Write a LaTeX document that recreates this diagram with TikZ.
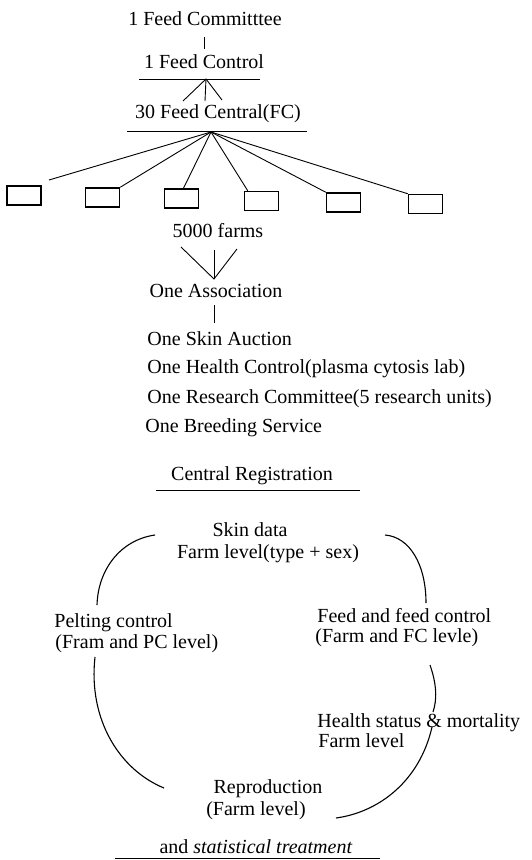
\documentclass[tikz,border=0pt]{standalone}
\usepackage{fontspec}
\setmainfont{Liberation Serif}
\usetikzlibrary{positioning}
\tikzset{txt/.style={font=\fontsize{20}{23}\selectfont, inner sep=0pt, anchor=base},
  lefttxt/.style={txt, anchor=base west},
  farmbox/.style={draw, line width=1.5pt, minimum width=34pt, minimum height=19pt, inner sep=0pt},
  rule/.style={line width=1pt},
  cycle arc/.style={line width=1.1pt}}

\begin{document}
\begin{tikzpicture}[x=1pt,y=-1pt,line width=0.9pt]
\useasboundingbox (0,0) rectangle (531,860);

% organisation
\node[txt] (committee) at (205,25) {1 Feed Committtee};
\node[txt] (control) at (204,68) {1 Feed Control};
\node[txt] (central) at (218,118) {30 Feed Central(FC)};
\draw[rule] (139,79) -- (260,79);
\draw[rule] (127,131) -- (307,131);

\coordinate (c1) at (204,37);
\coordinate (c2) at (204,49);
\draw (c1) -- (c2);

\coordinate (uptip) at (206,79);
\coordinate (upl) at (183,101);
\coordinate (upm) at (205,101);
\coordinate (upr) at (222,100);
\draw (upl) -- (uptip) -- (upr);
\draw (upm) -- (uptip);

% feed centrals
\coordinate (fan) at (211,132);
\node[farmbox] (box1) at (24,195.5) {};
\node[farmbox] (box2) at (102.5,197.5) {};
\node[farmbox] (box3) at (181.5,198.5) {};
\node[farmbox] (box4) at (261.5,201) {};
\node[farmbox] (box5) at (343.5,202.5) {};
\node[farmbox] (box6) at (425.5,204) {};
\coordinate (b1) at (49,180);
\draw (fan) -- (b1);
\draw (fan) -- (box2.north east);
\draw (fan) -- ([xshift=2pt]box3.north);
\draw (fan) -- ([xshift=4pt]box4.north west);
\draw (fan) -- (box5.north west);
\draw (fan) -- (box6.north west);

\node[txt] (farms) at (218,237) {5000 farms};
\coordinate (dntip) at (214,279);
\coordinate (dnl) at (181,247);
\coordinate (dnm) at (214,250);
\coordinate (dnr) at (237,249);
\draw (dnl) -- (dntip) -- (dnr);
\draw (dnm) -- (dntip);

\node[txt] (assoc) at (216,297) {One Association};
\coordinate (a1) at (214,305);
\coordinate (a2) at (214,323);
\draw (a1) -- (a2);

\node[lefttxt] (auction) at (147,345) {One Skin Auction};
\node[lefttxt] (health) at (147,373) {One Health Control(plasma cytosis lab)};
\node[lefttxt] (research) at (147,403) {One Research Committee(5 research units)};
\node[lefttxt] (breeding) at (145,432) {One Breeding Service};

% registration cycle
\node[txt] (registration) at (252,480) {Central Registration};
\draw[rule] (156,490) -- (360,490);

\node[txt] (skindata) at (250,536) {Skin data};
\node[txt] (farmlevel) at (268,558) {Farm level(type + sex)};
\node[lefttxt] (pelting) at (54,627) {Pelting control};
\node[lefttxt] (pelting2) at (55,648) {(Fram and PC level)};
\node[lefttxt] (feed) at (317,622) {Feed and feed control};
\node[lefttxt] (feed2) at (315,642) {(Farm and FC levle)};
\node[lefttxt] (healthstatus) at (317,727) {Health status \& mortality};
\node[lefttxt] (healthstatus2) at (318,747) {Farm level};
\node[txt] (repro) at (268,793) {Reproduction};
\node[txt] (repro2) at (256,815) {(Farm level)};

\draw[cycle arc] (155,535) .. controls (120,540) and (98,570) .. (97,605);
\draw[cycle arc] (385,535) .. controls (410,537) and (426,565) .. (426,603);
\draw[cycle arc] (95,657) .. controls (88,720) and (120,770) .. (164,788);
\draw[cycle arc] (430,665) .. controls (437,685) and (437,700) .. (433,712);
\draw[cycle arc] (432,727) .. controls (420,780) and (380,812) .. (336,818);

\node[txt] (statistics) at (256,853) {and \textit{statistical treatment}};
\draw[rule] (115,858) -- (380,858);
\end{tikzpicture}
\end{document}
